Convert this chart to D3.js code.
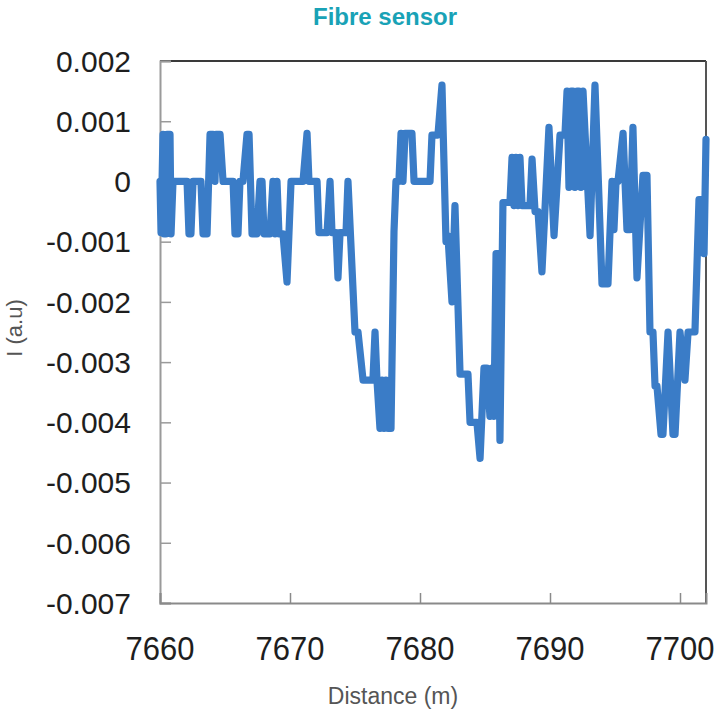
<!DOCTYPE html>
<html>
<head>
<meta charset="utf-8">
<script src="https://cdn.jsdelivr.net/npm/d3@7"></script>
<style>
  html, body { margin: 0; padding: 0; background: #fff; }
  svg { display: block; }
</style>
</head>
<body>
<svg id="chart" width="718" height="715"></svg>
<script>
// Backscatter intensity along the fibre, sampled by distance
const distance = [
  7660.00, 7660.08, 7660.23, 7660.31, 7660.46, 7660.54, 7660.77, 7660.85, 7661.00, 7662.08,
  7662.23, 7662.38, 7662.54, 7663.15, 7663.31, 7663.62, 7663.85, 7664.08, 7664.23, 7664.31,
  7664.62, 7664.85, 7665.62, 7665.77, 7666.00, 7666.15, 7666.38, 7666.69, 7666.85, 7667.08,
  7667.46, 7667.69, 7667.85, 7668.00, 7668.46, 7668.69, 7668.85, 7669.00, 7669.15, 7669.46,
  7669.77, 7670.08, 7671.00, 7671.31, 7671.46, 7672.08, 7672.23, 7672.85, 7673.08, 7673.23,
  7673.54, 7673.69, 7673.85, 7674.31, 7674.46, 7675.00, 7675.23, 7675.62, 7676.38, 7676.54,
  7676.69, 7676.92, 7677.08, 7677.23, 7677.38, 7677.54, 7677.77, 7678.00, 7678.15, 7678.38,
  7678.54, 7678.69, 7678.85, 7679.38, 7679.54, 7680.77, 7680.92, 7681.38, 7681.69, 7682.00,
  7682.15, 7682.46, 7682.69, 7683.08, 7683.69, 7683.85, 7684.38, 7684.62, 7684.92, 7685.15,
  7685.38, 7685.54, 7685.69, 7685.85, 7686.00, 7686.15, 7686.38, 7686.92, 7687.08, 7687.23,
  7687.38, 7687.54, 7687.69, 7687.85, 7688.46, 7688.62, 7688.85, 7689.08, 7689.38, 7689.92,
  7690.31, 7690.77, 7691.15, 7691.31, 7691.46, 7691.62, 7691.77, 7691.92, 7692.08, 7692.23,
  7692.38, 7692.54, 7693.08, 7693.46, 7694.00, 7694.46, 7694.77, 7694.92, 7695.08, 7695.23,
  7695.62, 7695.92, 7696.15, 7696.38, 7696.69, 7697.15, 7697.46, 7697.69, 7697.92, 7698.08,
  7698.23, 7698.54, 7698.69, 7699.08, 7699.46, 7699.62, 7700.00, 7700.38, 7700.62, 7701.15,
  7701.46, 7701.69, 7701.85, 7702.00
];

const intensity = [
  0, -0.00085, 0.00078, -0.00087, -0.00087, 0.00078, 0.00078, -0.00087, 0, 0,
  -0.00087, -0.00087, 0, 0, -0.00087, -0.00087, 0.00078, 0.00078, 0, 0.00078,
  0.00078, 0, 0, -0.00087, -0.00087, 0, 0, 0.00078, 0.00078, -0.00087,
  -0.00087, 0, 0, -0.00087, -0.00087, 0, -0.00087, 0, -0.00087, -0.00087,
  -0.00167, 0, 0, 0.0008, 0, 0, -0.00085, -0.00085, 0, -0.00085,
  -0.00085, -0.0016, -0.00085, -0.00085, 0, -0.0025, -0.0025, -0.0033, -0.0033, -0.0025,
  -0.0033, -0.0041, -0.0033, -0.0041, -0.0033, -0.0041, -0.0041, -0.00083, 0, 0,
  0.0008, 0, 0.0008, 0.0008, 0, 0, 0.00077, 0.00077, 0.0016, -0.001,
  -0.0009, -0.002, -0.0004, -0.0032, -0.0032, -0.004, -0.004, -0.0046, -0.0031, -0.0031,
  -0.0039, -0.0031, -0.0039, -0.0012, -0.0012, -0.0043, -0.00035, -0.00035, 0.0004, -0.0004,
  0.0004, -0.0004, 0.0004, -0.0004, -0.0004, 0.00037, -0.0005, -0.0005, -0.0015, 0.0009,
  -0.0009, 0.00077, 0.00077, 0.0015, -0.0001, 0.0015, 0.0015, -0.0001, 0.0015, 0.0015,
  -0.0001, 0.0015, -0.0009, 0.0016, -0.0017, -0.0017, 0, -0.0008, 0, 0,
  0.0008, -0.0008, -0.0008, 0.0009, -0.0016, 0.0001, 0.0001, -0.0025, -0.0025, -0.0034,
  -0.0034, -0.0042, -0.0042, -0.0025, -0.0042, -0.0042, -0.0025, -0.0033, -0.0025, -0.0025,
  -0.0003, -0.0003, -0.0012, 0.0007
];

const xTicks = [7660, 7670, 7680, 7690, 7700];
const yTicks = [0.002, 0.001, 0, -0.001, -0.002, -0.003, -0.004, -0.005, -0.006, -0.007];
const yTickLabels = ["0.002", "0.001", "0", "-0.001", "-0.002", "-0.003", "-0.004", "-0.005", "-0.006", "-0.007"];

const chartTitle = "Fibre sensor";
const xTitle = "Distance (m)";
const yTitle = "I (a.u)";

const svg = d3.select("#chart");
const plot = { left: 160, right: 706, top: 61, bottom: 603 };

const x = d3.scaleLinear().domain([7660, 7702]).range([plot.left, plot.right]);
const y = d3.scaleLinear().domain([-0.007, 0.002]).range([plot.bottom, plot.top]);

const points = distance.map((d, i) => [d, intensity[i]]);

// Title
svg.append("text")
  .attr("x", 385).attr("y", 25)
  .attr("text-anchor", "middle")
  .attr("font-family", "Liberation Sans, Arial, sans-serif")
  .attr("font-weight", "bold")
  .attr("font-size", 24)
  .attr("fill", "#19a2b6")
  .text(chartTitle);

// Plot frame: top and right edges
svg.append("line")
  .attr("x1", plot.left).attr("x2", plot.right)
  .attr("y1", plot.top).attr("y2", plot.top)
  .attr("stroke", "#3a3a3a").attr("stroke-width", 2);
svg.append("line")
  .attr("x1", plot.right).attr("x2", plot.right)
  .attr("y1", plot.top).attr("y2", plot.bottom)
  .attr("stroke", "#555").attr("stroke-width", 2);

// Y axis, ticks pointing into the plot
const yAxis = d3.axisRight(y).tickValues(yTicks).tickSize(11).tickFormat(() => "");
const yg = svg.append("g").attr("transform", `translate(${plot.left},0)`).call(yAxis);
yg.select(".domain").attr("stroke", "#9a9a9a").attr("stroke-width", 2);
yg.selectAll(".tick line").attr("stroke", "#9a9a9a").attr("stroke-width", 1.5);

svg.append("g").selectAll("text")
  .data(yTicks)
  .join("text")
  .attr("x", 131)
  .attr("y", d => y(d))
  .attr("dy", "0.36em")
  .attr("text-anchor", "end")
  .attr("font-family", "Liberation Sans, Arial, sans-serif")
  .attr("font-size", 30)
  .attr("fill", "#1e1e1e")
  .text((d, i) => yTickLabels[i]);

// X axis, ticks pointing into the plot
const xAxis = d3.axisTop(x).tickValues(xTicks).tickSize(10).tickFormat(() => "");
const xg = svg.append("g").attr("transform", `translate(0,${plot.bottom})`).call(xAxis);
xg.select(".domain").attr("stroke", "#8a8a8a").attr("stroke-width", 2);
xg.selectAll(".tick line").attr("stroke", "#8a8a8a").attr("stroke-width", 1.5);

svg.append("g").selectAll("text")
  .data(xTicks)
  .join("text")
  .attr("transform", d => `translate(${x(d)},660) scale(1,1.1)`)
  .attr("text-anchor", "middle")
  .attr("font-family", "Liberation Sans, Arial, sans-serif")
  .attr("font-size", 31)
  .attr("fill", "#1e1e1e")
  .text(d => d);

// Axis titles
svg.append("text")
  .attr("x", 393).attr("y", 704)
  .attr("text-anchor", "middle")
  .attr("font-family", "Liberation Sans, Arial, sans-serif")
  .attr("font-size", 23)
  .attr("fill", "#555")
  .text(xTitle);

svg.append("text")
  .attr("transform", "translate(22,328) rotate(-90)")
  .attr("text-anchor", "middle")
  .attr("font-family", "Liberation Sans, Arial, sans-serif")
  .attr("font-size", 22)
  .attr("fill", "#555")
  .text(yTitle);

// Intensity trace
const line = d3.line().x(d => x(d[0])).y(d => y(d[1]));
svg.append("path")
  .datum(points)
  .attr("d", line)
  .attr("fill", "none")
  .attr("stroke", "#3a7cc7")
  .attr("stroke-width", 7.2)
  .attr("stroke-linejoin", "round")
  .attr("stroke-linecap", "round");
</script>
</body>
</html>
